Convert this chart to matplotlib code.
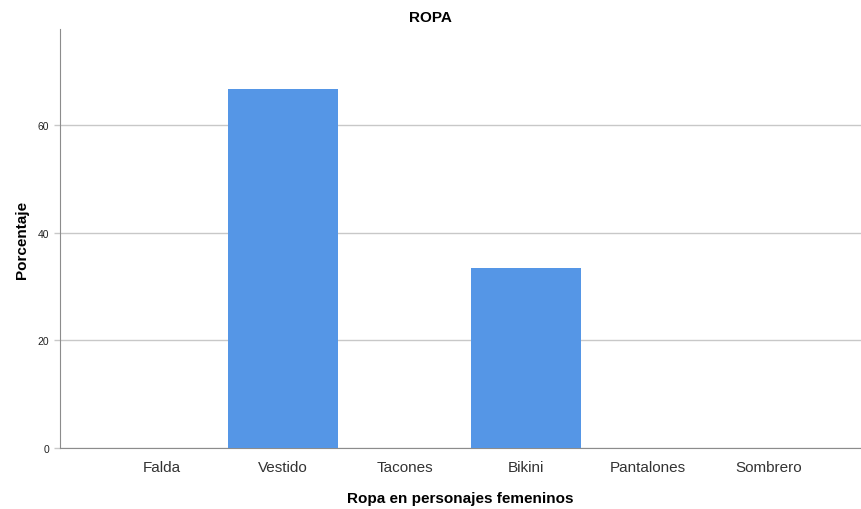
import matplotlib
matplotlib.use("Agg")
import matplotlib.pyplot as plt

plt.rcParams['font.family'] = ['Liberation Sans', 'DejaVu Sans']

# ── Data ──────────────────────────────────────────────────────────────────────
categories = ['Falda', 'Vestido', 'Tacones', 'Bikini', 'Pantalones', 'Sombrero']
percentages = [0.0, 66.67, 0.0, 33.33, 0.0, 0.0]
y_ticks = [0, 20, 40, 60]

BAR_COLOR = '#5596E6'
GRID_COLOR = '#C8C8C8'
SPINE_COLOR = '#8C8C8C'

fig = plt.figure(figsize=(8.61, 5.10), dpi=100)
ax = fig.add_axes([60 / 861, 61 / 510, 1 - 60 / 861, 419 / 510])

x = list(range(len(categories)))
ax.bar(x, percentages, width=0.905, color=BAR_COLOR, zorder=3)

ax.set_xlim(-0.835, 5.757)
ax.set_ylim(0, 77.8)

ax.set_yticks(y_ticks)
ax.set_yticklabels([str(t) for t in y_ticks], fontsize=7.5, color='#222222')
ax.yaxis.grid(True, color=GRID_COLOR, linewidth=1.0, zorder=0)
ax.set_axisbelow(True)

ax.set_xticks(x)
ax.set_xticklabels(categories, fontsize=11, color='#333333')
ax.tick_params(axis='x', length=0, pad=9)
ax.tick_params(axis='y', length=4, width=1, color=GRID_COLOR, pad=4)

for side in ['top', 'right']:
    ax.spines[side].set_visible(False)
ax.spines['left'].set_color(SPINE_COLOR)
ax.spines['bottom'].set_color(SPINE_COLOR)

ax.set_xlabel('Ropa en personajes femeninos', fontsize=11, fontweight='bold',
              labelpad=12)
ax.set_ylabel('Porcentaje', fontsize=11, fontweight='bold', labelpad=6)
fig.text(0.5, 1 - 18 / 510, 'ROPA', ha='center', va='center',
         fontsize=11, fontweight='bold')

fig.savefig('out.png', dpi=100)
